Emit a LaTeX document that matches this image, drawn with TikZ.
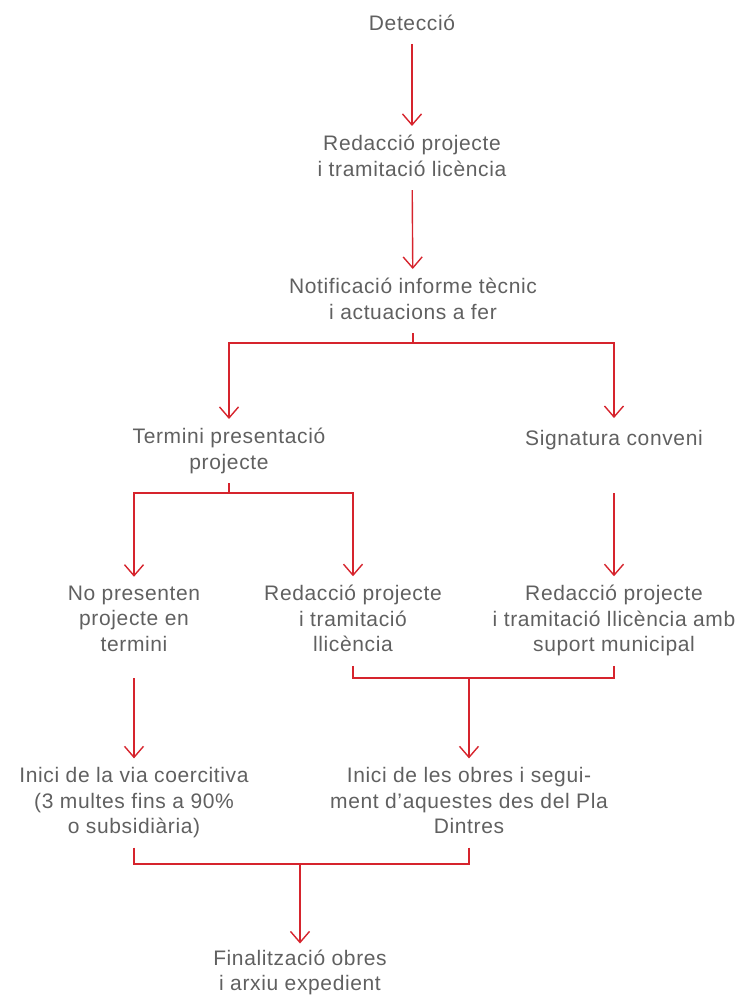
\documentclass[tikz,border=0pt]{standalone}
\usepackage{fontspec}
\setmainfont{Liberation Sans}[LetterSpace=3]
\usetikzlibrary{arrows.meta}
\definecolor{linered}{RGB}{214,36,45}
\definecolor{textgray}{RGB}{96,96,96}

\begin{document}
\begin{tikzpicture}[x=1pt,y=-1pt,
		box/.style={font=\fontsize{21}{25.5}\selectfont, text=textgray, align=center,
			inner sep=0pt, execute at begin node=\strut, execute at end node=\strut},
		conn/.style={draw=linered, line width=1.4pt},
		arr/.style={conn, -{Straight Barb[length=11pt,width=19pt]}, shorten >=9pt},
		from/.style={shorten <=6pt}]
			\useasboundingbox (0,0) rectangle (742,997);

			\node[box] (det) at (412,25) {Detecció};
			\node[box] (red1) at (412,159.5) {Redacció projecte\\i tramitació licència};
			\node[box] (notif) at (413,302.5) {Notificació informe tècnic\\i actuacions a fer};
			\node[box] (term) at (229,452.5) {Termini presentació\\projecte};
			\node[box] (sign) at (614,440) {Signatura conveni};
			\node[box] (nopres) at (134,622.5) {No presenten\\projecte en\\termini};
			\node[box] (red2) at (353,622.5) {Redacció projecte\\i tramitació\\llicència};
			\node[box] (red3) at (614,622.5) {Redacció projecte\\i tramitació llicència amb\\suport municipal};
			\node[box] (via) at (134,804.5) {Inici de la via coercitiva\\(3 multes fins a 90\%\\o subsidiària)};
			\node[box] (obres) at (469,804.5) {Inici de les obres i segui-\\ment d’aquestes des del Pla\\Dintres};
			\node[box] (fin) at (300,974) {Finalització obres\\i arxiu expedient};

			\coordinate (b1) at (413,343);
			\coordinate (b2) at (229,493);
			\coordinate (b3) at (469,678);
			\coordinate (b4) at (300,864);

			\draw[arr,from] (det) -- (red1);
			\draw[arr,from] (red1) -- (notif);
			\draw[conn,from] (notif) -- (b1);
			\draw[arr] (b1) -| (term);
			\draw[arr] (b1) -| (sign);
			\draw[conn,from] (term) -- (b2);
			\draw[arr] (b2) -| (nopres);
			\draw[arr] (b2) -| (red2);
			\draw[arr] (sign |- b2) -- (red3);
			\draw[conn,from] (red2) |- (b3);
			\draw[conn,from] (red3) |- (b3);
			\draw[arr] (b3) -- (obres);
			\draw[arr] (nopres |- b3) -- (via);
			\draw[conn,from] (via) |- (b4);
			\draw[conn,from] (obres) |- (b4);
			\draw[arr,shorten >=6pt] (b4) -- (fin);
		\end{tikzpicture}
\end{document}
